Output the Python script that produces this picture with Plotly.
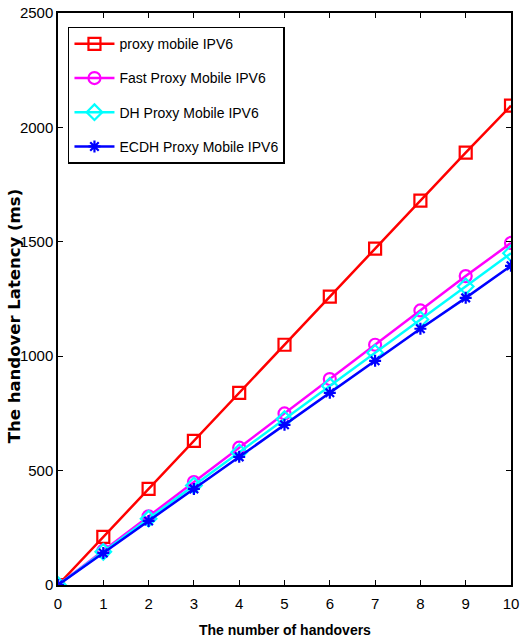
import plotly.graph_objects as go

handovers = [0, 1, 2, 3, 4, 5, 6, 7, 8, 9, 10]
pmipv6 = [0, 210, 420, 630, 840, 1050, 1260, 1470, 1680, 1890, 2095]
fpmipv6 = [0, 150, 300, 450, 600, 750, 900, 1050, 1200, 1350, 1495]
dh_pmipv6 = [0, 145, 290, 435, 580, 725, 870, 1015, 1160, 1305, 1450]
ecdh_pmipv6 = [0, 140, 280, 420, 560, 700, 840, 980, 1120, 1255, 1395]

names = ["proxy mobile IPV6", "Fast Proxy Mobile IPV6", "DH Proxy Mobile IPV6", "ECDH Proxy Mobile IPV6"]
series = [pmipv6, fpmipv6, dh_pmipv6, ecdh_pmipv6]
colors = ["#ff0000", "#ff00ff", "#00ffff", "#0000ff"]
symbols = ["square-open", "circle-open", "diamond-open", "asterisk-open"]
sizes = [12, 12, 12, 10]

fig = go.Figure()
for i, (n, s, c, sym, sz) in enumerate(zip(names, series, colors, symbols, sizes)):
    fig.add_trace(go.Scatter(
        x=handovers, y=s, name=n, mode="lines+markers", legendgroup=f"g{i}",
        line=dict(color=c, width=2.5),
        marker=dict(symbol=sym, size=sz, color=c, line=dict(color=c, width=2.2)),
    ))

font_family = "Liberation Sans, Arial"
axis_common = dict(
    showline=True, linecolor="black", linewidth=1.5, mirror="ticks",
    ticks="inside", ticklen=5, tickcolor="black", tickwidth=1,
    showgrid=False, zeroline=False, automargin=False,
    ticklabeloverflow="allow",
    tickfont=dict(family=font_family, size=15, color="black"),
)

fig.update_layout(
    width=521, height=639,
    margin=dict(l=58, r=10, t=13, b=54),
    paper_bgcolor="white", plot_bgcolor="white",
    xaxis=dict(range=[0, 10], tickvals=handovers, ticklabelstandoff=4, **axis_common),
    yaxis=dict(range=[0, 2500], tickvals=[0, 500, 1000, 1500, 2000, 2500], **axis_common),
    legend=dict(x=0.022, y=0.976, xanchor="left", yanchor="top",
                bgcolor="white", bordercolor="black", borderwidth=1.5,
                font=dict(family=font_family, size=14, color="black"),
                itemwidth=40, tracegroupgap=13),
    showlegend=True,
    annotations=[
        dict(text="<b>The number of handovers</b>", xref="paper", yref="paper",
             x=0.5, y=-0.0787, xanchor="center", yanchor="middle", showarrow=False,
             font=dict(family=font_family, size=14, color="black")),
        dict(text="<b>The handover Latency (ms)</b>", xref="paper", yref="paper",
             x=-0.097, y=0.47, xanchor="center", yanchor="middle", showarrow=False,
             textangle=-90, font=dict(family="DejaVu Sans", size=16.5, color="black")),
    ],
)

fig.write_html("out.html", config={"displayModeBar": False},
               post_script="document.body.style.margin='0';document.body.style.padding='0';")
